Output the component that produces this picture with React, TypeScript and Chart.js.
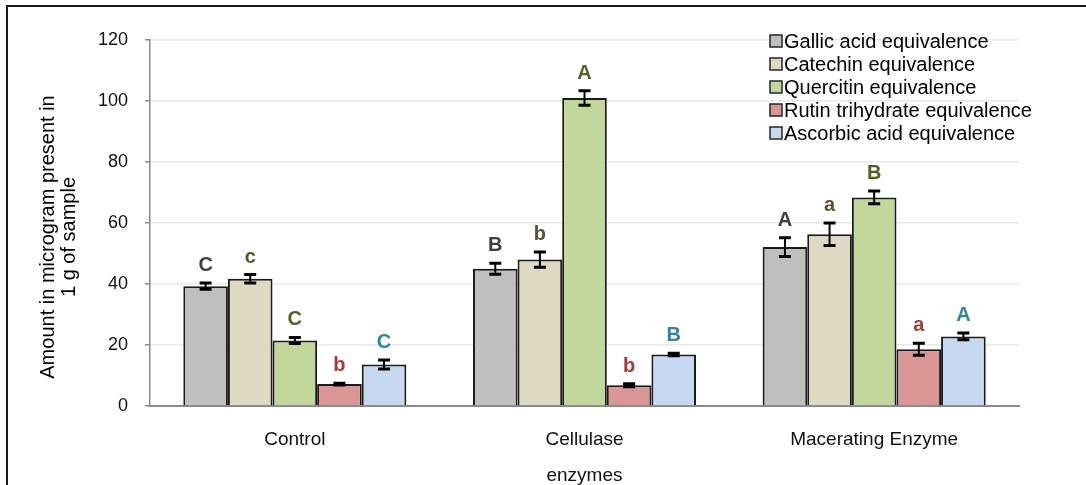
import React, { useEffect, useRef } from "react";
import { Chart, registerables } from "chart.js";

Chart.register(...registerables);

const categories = ["Control", "Cellulase", "Macerating Enzyme"];
const seriesNames = [
  "Gallic acid equivalence",
  "Catechin equivalence",
  "Quercitin equivalence",
  "Rutin trihydrate equivalence",
  "Ascorbic acid equivalence",
];
const gallic = [39.3, 45.0, 52.1];
const catechin = [41.7, 48.0, 56.3];
const quercitin = [21.5, 101.0, 68.4];
const rutin = [7.2, 6.8, 18.6];
const ascorbic = [13.6, 16.9, 22.8];

const gallicErr = [1.0, 1.8, 3.1];
const catechinErr = [1.4, 2.5, 3.7];
const quercitinErr = [1.0, 2.4, 2.1];
const rutinErr = [0.3, 0.5, 2.0];
const ascorbicErr = [1.5, 0.4, 1.1];

const gallicLetters = ["C", "B", "A"];
const catechinLetters = ["c", "b", "a"];
const quercitinLetters = ["C", "A", "B"];
const rutinLetters = ["b", "b", "a"];
const ascorbicLetters = ["C", "B", "A"];

const yMin = 0;
const yMax = 120;
const yStep = 20;
const xTitle = "enzymes";
const yTitle = ["Amount in microgram present in", "1 g of sample"];

const fills = ["#bfbfbf", "#ddd9c3", "#c3d69b", "#d99694", "#c6d9f1"];
const letterColors = ["#404040", "#5a5230", "#4f6228", "#a33b3b", "#31859c"];

const values = [gallic, catechin, quercitin, rutin, ascorbic];
const errors = [gallicErr, catechinErr, quercitinErr, rutinErr, ascorbicErr];
const letters = [gallicLetters, catechinLetters, quercitinLetters, rutinLetters, ascorbicLetters];

const FONT = "'Liberation Sans', Arial, sans-serif";

const decorPlugin = {
  id: "decor",
  afterDatasetsDraw(chart: any) {
    const ctx = chart.ctx;
    const yScale = chart.scales.y;
    ctx.save();
    values.forEach((_, di) => {
      const meta = chart.getDatasetMeta(di);
      meta.data.forEach((bar: any, i: number) => {
        const v = values[di][i];
        const e = errors[di][i];
        const x = bar.x;
        const yt = yScale.getPixelForValue(v + e);
        const yb = yScale.getPixelForValue(v - e);
        ctx.strokeStyle = "#000";
        ctx.lineWidth = 2;
        ctx.beginPath();
        ctx.moveTo(x, yt);
        ctx.lineTo(x, yb);
        ctx.stroke();
        ctx.lineWidth = 3;
        ctx.beginPath();
        ctx.moveTo(x - 6, yt);
        ctx.lineTo(x + 6, yt);
        ctx.moveTo(x - 6, yb);
        ctx.lineTo(x + 6, yb);
        ctx.stroke();
        ctx.fillStyle = letterColors[di];
        ctx.font = `bold 20px ${FONT}`;
        ctx.textAlign = "center";
        ctx.textBaseline = "alphabetic";
        ctx.fillText(letters[di][i], x, yt - 12);
      });
    });
    ctx.restore();
  },
  afterDraw(chart: any) {
    const ctx = chart.ctx;
    ctx.save();
    ctx.strokeStyle = "#1a1a1a";
    ctx.lineWidth = 2;
    ctx.beginPath();
    ctx.moveTo(7, 485);
    ctx.lineTo(7, 6);
    ctx.lineTo(1086, 6);
    ctx.stroke();
    ctx.fillStyle = "#000";
    ctx.font = `20px ${FONT}`;
    ctx.textAlign = "center";
    ctx.textBaseline = "middle";
    yTitle.forEach((line, i) => {
      ctx.save();
      ctx.translate(48 + i * 21, 237);
      ctx.rotate(-Math.PI / 2);
      ctx.fillText(line, 0, 0);
      ctx.restore();
    });
    ctx.font = `20px ${FONT}`;
    ctx.textAlign = "left";
    seriesNames.forEach((name, i) => {
      const cy = 41 + i * 23;
      ctx.fillStyle = fills[i];
      ctx.fillRect(770, cy - 6, 12, 12);
      ctx.strokeStyle = "#262626";
      ctx.lineWidth = 1.5;
      ctx.strokeRect(770, cy - 6, 12, 12);
      ctx.fillStyle = "#000";
      ctx.fillText(name, 784, cy + 1);
    });
    ctx.restore();
  },
};

export default function App() {
  const ref = useRef<HTMLCanvasElement | null>(null);
  useEffect(() => {
    document.body.style.margin = "0";
    if (!ref.current) return;
    const chart = new Chart(ref.current, {
      type: "bar",
      data: {
        labels: categories,
        datasets: values.map((vals, i) => ({
          label: seriesNames[i],
          data: vals,
          backgroundColor: fills[i],
          borderColor: "#1a1a1a",
          borderWidth: 2,
          categoryPercentage: 0.77,
          barPercentage: 1,
        })),
      },
      options: {
        responsive: false,
        animation: false,
        layout: { padding: { top: 40, right: 67, left: 0, bottom: 0 } },
        plugins: { legend: { display: false }, tooltip: { enabled: false } },
        scales: {
          x: {
            grid: { display: false, drawTicks: false },
            border: { color: "#8a8a8a", width: 2 },
            ticks: { color: "#111", font: { family: FONT, size: 19 }, padding: 22 },
            title: {
              display: true,
              text: xTitle,
              color: "#111",
              font: { family: FONT, size: 19 },
              padding: { top: 0, bottom: -2 },
            },
            afterFit: (s: any) => {
              s.height = 79;
            },
          },
          y: {
            min: yMin,
            max: yMax,
            ticks: { stepSize: yStep, color: "#111", font: { family: FONT, size: 18 }, padding: 17 },
            grid: { color: "#e8e8e8", lineWidth: 1.5, tickLength: 5, tickColor: "#8a8a8a" },
            border: { color: "#8a8a8a", width: 1.5 },
            afterFit: (s: any) => {
              s.width = 150;
            },
          },
        },
      },
      plugins: [decorPlugin],
    });
    return () => chart.destroy();
  }, []);
  return (
    <div style={{ width: 1086, height: 485 }}>
      <canvas ref={ref} width={1086} height={485} style={{ display: "block" }} />
    </div>
  );
}
